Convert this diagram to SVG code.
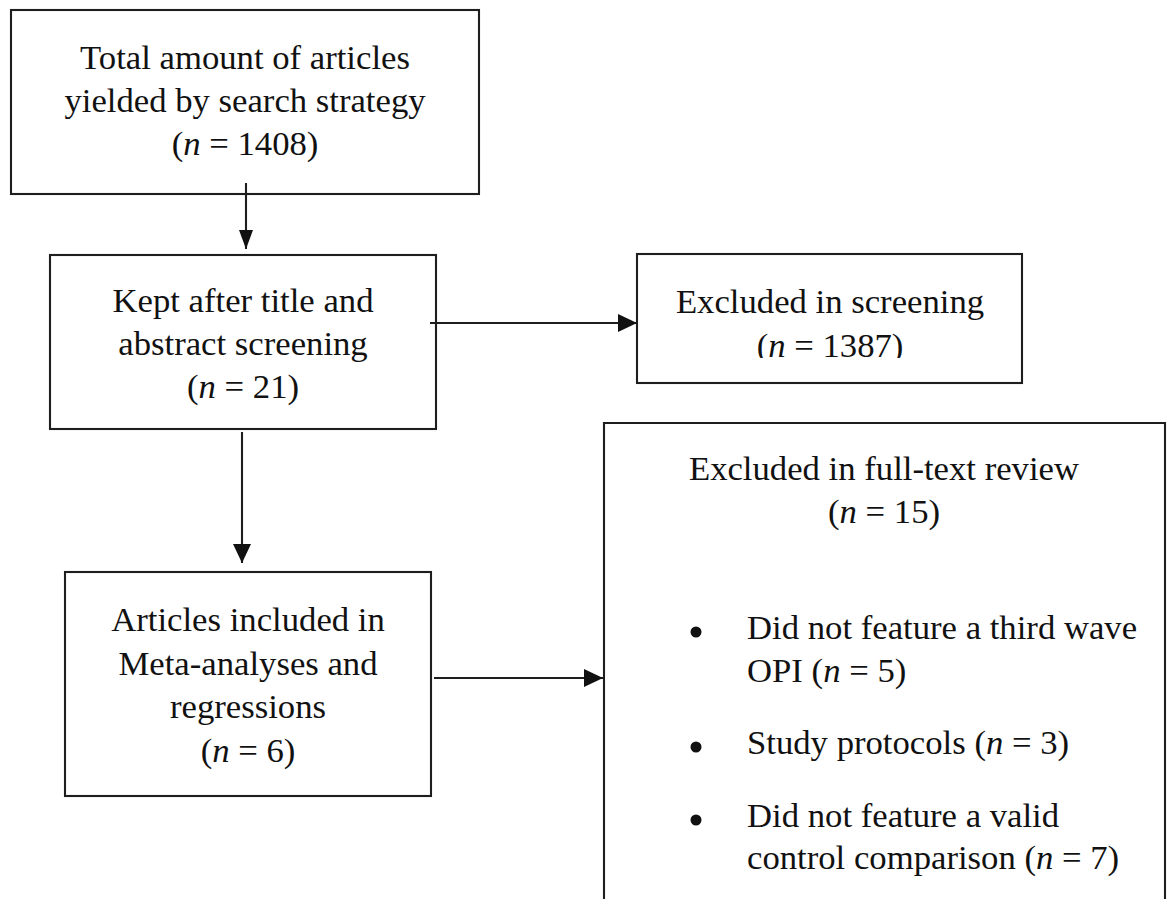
<svg xmlns="http://www.w3.org/2000/svg" width="1169" height="899" viewBox="0 0 1169 899">
<defs>
<style>
.box{fill:#fff;stroke:#1e1e1e;stroke-width:2.1}
.ln{fill:none;stroke:#1e1e1e;stroke-width:2.1}
text{font-family:"Liberation Serif","Times New Roman",serif;font-size:34.7px;fill:#111}
.c{text-anchor:middle}
.i{font-style:italic}
.dot{fill:#111}
</style>
<marker id="ah" markerUnits="userSpaceOnUse" markerWidth="20" markerHeight="18" refX="19" refY="9" orient="auto" viewBox="0 0 20 18">
<path d="M0,0 L19,9 L0,18 Z" fill="#111"/>
</marker>
<marker id="ahs" markerUnits="userSpaceOnUse" markerWidth="20" markerHeight="15" refX="19" refY="7" orient="auto" viewBox="0 0 20 15">
<path d="M0,0 L19,7 L0,14 Z" fill="#111"/>
</marker>
<clipPath id="clipExcl"><rect x="637" y="254" width="385" height="104"/></clipPath>
</defs>
<rect width="1169" height="899" fill="#fff"/>

<g id="node-total">
<rect class="box" x="11" y="10" width="468" height="184"/>
<text class="c" x="245" y="69">Total amount of articles</text>
<text class="c" x="245" y="112">yielded by search strategy</text>
<text class="c" x="245" y="155">(<tspan class="i">n</tspan> = 1408)</text>
</g>

<g id="node-kept">
<rect class="box" x="50" y="255" width="386" height="174"/>
<text class="c" x="243" y="312">Kept after title and</text>
<text class="c" x="243" y="355">abstract screening</text>
<text class="c" x="243" y="398">(<tspan class="i">n</tspan> = 21)</text>
</g>

<g id="node-excluded-screening">
<rect class="box" x="637" y="254" width="385" height="129"/>
<text class="c" x="830" y="313">Excluded in screening</text>
<text class="c" x="830" y="357" clip-path="url(#clipExcl)">(<tspan class="i">n</tspan> = 1387)</text>
</g>

<g id="node-included">
<rect class="box" x="65" y="572" width="366" height="224"/>
<text class="c" x="248" y="631">Articles included in</text>
<text class="c" x="248" y="675">Meta-analyses and</text>
<text class="c" x="248" y="718">regressions</text>
<text class="c" x="248" y="762">(<tspan class="i">n</tspan> = 6)</text>
</g>

<g id="node-excluded-fulltext">
<path class="ln" d="M604,905 L604,423 L1165,423 L1165,905"/>
<text class="c" x="884" y="480">Excluded in full-text review</text>
<text class="c" x="884" y="523">(<tspan class="i">n</tspan> = 15)</text>
<circle class="dot" cx="696" cy="632" r="5.5"/>
<text x="747" y="639">Did not feature a third wave</text>
<text x="747" y="682">OPI (<tspan class="i">n</tspan> = 5)</text>
<circle class="dot" cx="696" cy="747" r="5.5"/>
<text x="747" y="754">Study protocols (<tspan class="i">n</tspan> = 3)</text>
<circle class="dot" cx="696" cy="820" r="5.5"/>
<text x="747" y="827">Did not feature a valid</text>
<text x="747" y="869">control comparison (<tspan class="i">n</tspan> = 7)</text>
</g>

<g id="connectors">
<line class="ln" x1="246" y1="183" x2="246" y2="249" marker-end="url(#ahs)"/>
<line class="ln" x1="430" y1="323" x2="637" y2="323" marker-end="url(#ah)"/>
<line class="ln" x1="242" y1="432" x2="242" y2="563" marker-end="url(#ah)"/>
<line class="ln" x1="434" y1="678" x2="603" y2="678" marker-end="url(#ah)"/>
</g>
</svg>
